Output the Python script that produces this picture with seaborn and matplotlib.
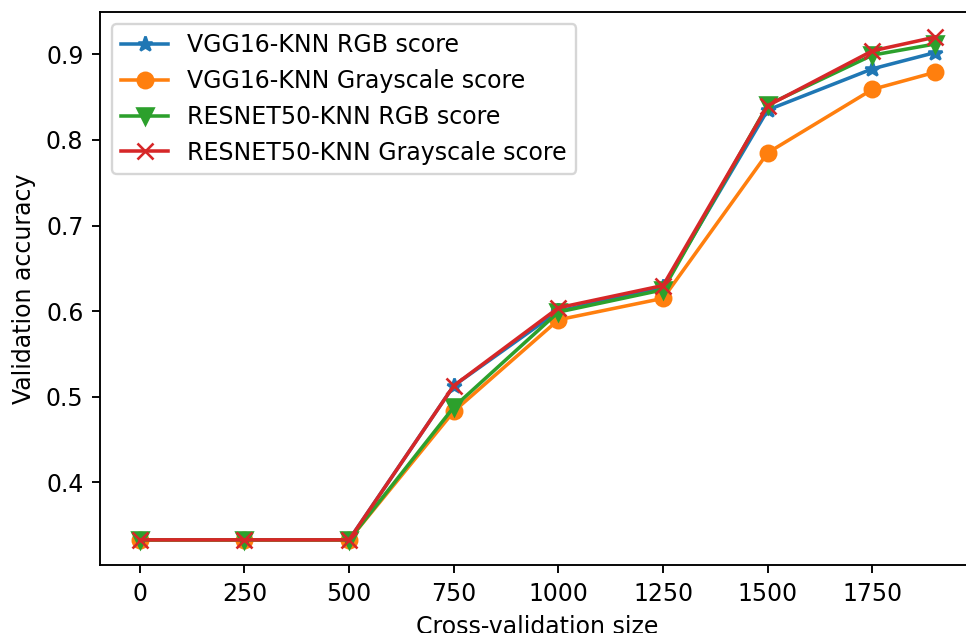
import matplotlib
matplotlib.use("Agg")
import matplotlib.pyplot as plt
import seaborn as sns
import pandas as pd

# Cross-validation sizes and validation accuracy per model/input type
sizes = [0, 250, 500, 750, 1000, 1250, 1500, 1750, 1900]
vgg_rgb = [0.333, 0.333, 0.333, 0.513, 0.600, 0.628, 0.835, 0.883, 0.902]
vgg_gray = [0.333, 0.333, 0.333, 0.483, 0.590, 0.615, 0.785, 0.859, 0.879]
resnet_rgb = [0.333, 0.333, 0.333, 0.488, 0.599, 0.625, 0.841, 0.899, 0.912]
resnet_gray = [0.333, 0.333, 0.333, 0.513, 0.604, 0.630, 0.840, 0.904, 0.920]

series_labels = [
    "VGG16-KNN RGB score",
    "VGG16-KNN Grayscale score",
    "RESNET50-KNN RGB score",
    "RESNET50-KNN Grayscale score",
]
series_values = [vgg_rgb, vgg_gray, resnet_rgb, resnet_gray]
markers = ["*", "o", "v", "x"]
colors = ["#1f77b4", "#ff7f0e", "#2ca02c", "#d62728"]

DPI = 170
fig = plt.figure(figsize=(966 / DPI, 633 / DPI), dpi=DPI)
ax = fig.add_axes([100 / 966, (633 - 565) / 633, 875 / 966, 553 / 633])

for label, vals, mk, col in zip(series_labels, series_values, markers, colors):
    df = pd.DataFrame({"size": sizes, "acc": vals})
    sns.lineplot(
        data=df, x="size", y="acc", ax=ax, label=label, color=col,
        marker=mk, markersize=6.5, markeredgecolor=col, markeredgewidth=1.1,
        linewidth=1.5,
    )

ax.set_xticks([0, 250, 500, 750, 1000, 1250, 1500, 1750])
ax.set_xlabel("Cross-validation size")
ax.set_ylabel("Validation accuracy")
ax.legend(loc="upper left")

fig.savefig("out.png", dpi=DPI)
